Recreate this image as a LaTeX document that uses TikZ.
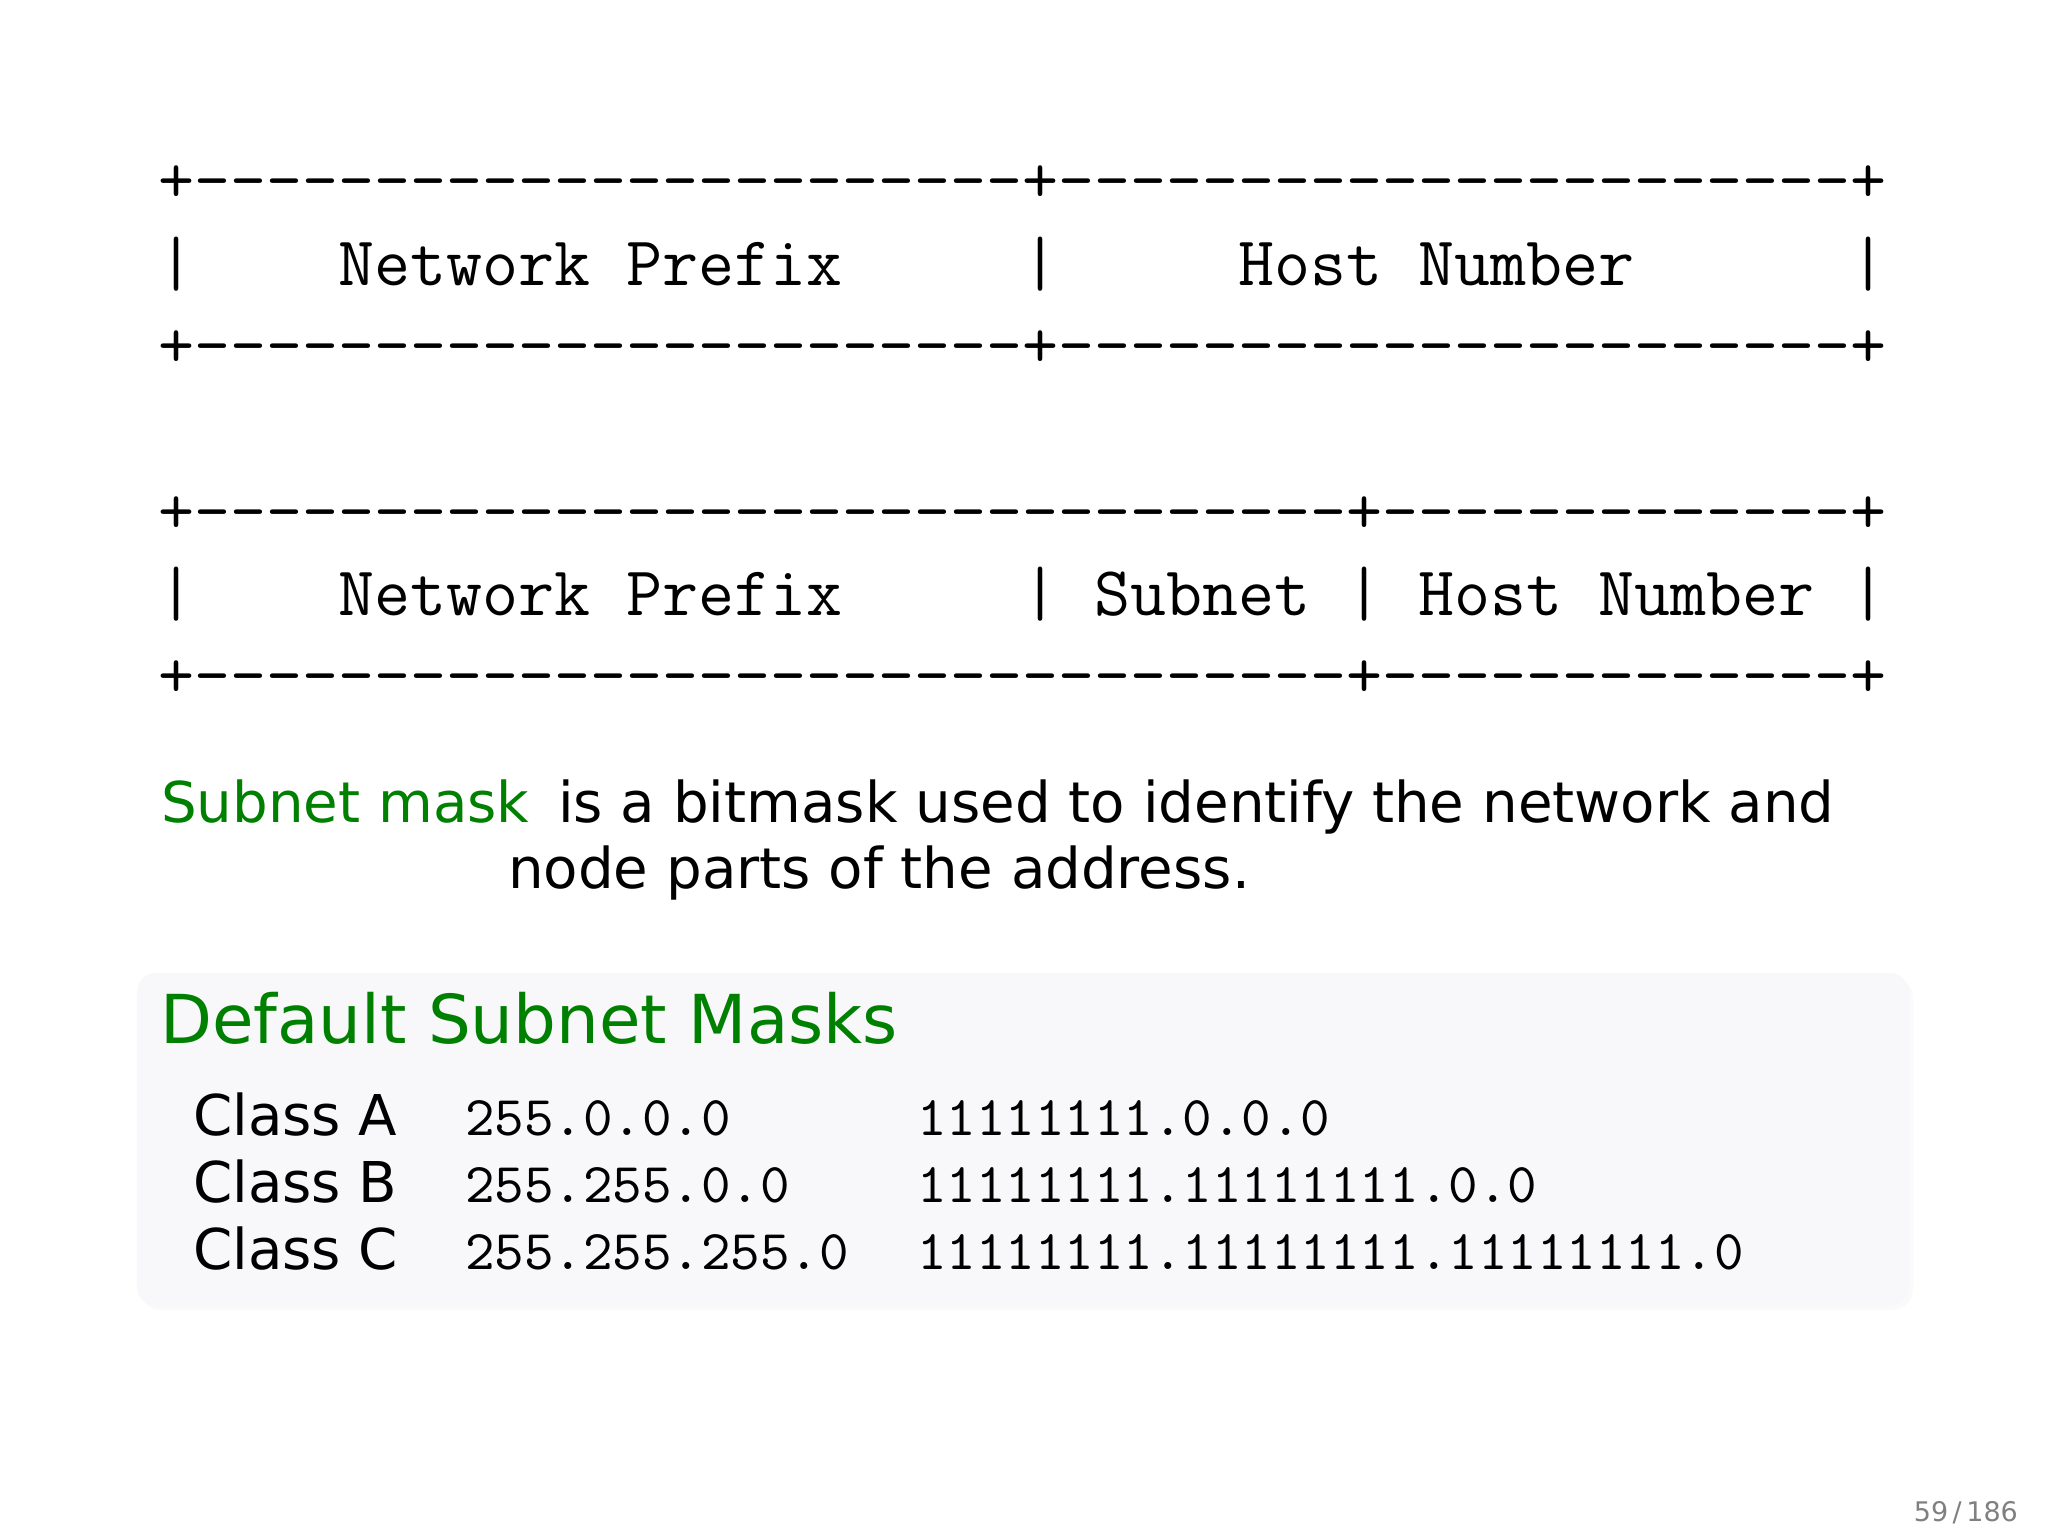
\documentclass[tikz,border=0pt]{standalone}
\usepackage{fontspec}
\setsansfont{DejaVu Sans}
\ExplSyntaxOn
\cs_new:Npn \rdash #1 { \prg_replicate:nn {#1} { - {} } }
\cs_new:Npn \rsp #1 { \prg_replicate:nn {#1} { \nobreakspace } }
\ExplSyntaxOff
\definecolor{strgreen}{RGB}{0,128,0}
\definecolor{blockbg}{RGB}{248,247,249}
\definecolor{pagegray}{RGB}{128,128,128}
\tikzset{
  ascii/.style={anchor=base west, inner sep=0pt, font=\ttfamily\fontsize{12.43}{14}\selectfont},
  body/.style={anchor=base west, inner sep=0pt, font=\sffamily\fontsize{10}{12}\selectfont},
  tab/.style={anchor=base west, inner sep=0pt, font=\ttfamily\fontsize{10}{12}\selectfont},
  btitle/.style={anchor=base west, inner sep=0pt, text=strgreen, font=\sffamily\fontsize{12}{14}\selectfont},
}
\begin{document}
\begin{tikzpicture}[x=0.0625mm, y=-0.0625mm]
\useasboundingbox (0,0) rectangle (2048,1536);
\fill[white] (0,0) rectangle (2048,1536);
% block
\fill[black!2, rounded corners=1.3mm] (140,977) rectangle (1913,1310);
\fill[blockbg, rounded corners=1.2mm] (137,973) rectangle (1909,1306);
% ASCII diagram 1
\node[ascii] (a1) at (157,203) {+\rdash{23}+\rdash{22}+};
\node[ascii] (a2) at (157,285) {|\rsp{4}Network\rsp{1}Prefix\rsp{5}|\rsp{5}Host\rsp{1}Number\rsp{6}|};
\node[ascii] (a3) at (157,367) {+\rdash{23}+\rdash{22}+};
% ASCII diagram 2
\node[ascii] (b1) at (157,533) {+\rdash{32}+\rdash{13}+};
\node[ascii] (b2) at (157,615) {|\rsp{4}Network\rsp{1}Prefix\rsp{5}|\rsp{1}Subnet\rsp{1}|\rsp{1}Host\rsp{1}Number\rsp{1}|};
\node[ascii] (b3) at (157,697) {+\rdash{32}+\rdash{13}+};
% description
\node[body, text=strgreen] (lbl) at (160,822) {Subnet mask};
\node[body] (d1) at (557,822) {is a bitmask used to identify the network and};
\node[body] (d2) at (507,888) {node parts of the address.};
% block content
\node[btitle] (bt) at (159,1043) {Default Subnet Masks};
\node[body] (ca) at (192,1135) {Class A};
\node[body] (cb) at (192,1202) {Class B};
\node[body] (cc) at (192,1269) {Class C};
\node[tab] (ma) at (464,1135) {255.0.0.0};
\node[tab] (mb) at (464,1202) {255.255.0.0};
\node[tab] (mc) at (464,1269) {255.255.255.0};
\node[tab] (ba) at (916,1135) {11111111.0.0.0};
\node[tab] (bb) at (916,1202) {11111111.11111111.0.0};
\node[tab] (bc) at (916,1269) {11111111.11111111.11111111.0};
% page number
\node[anchor=base east, inner sep=0pt, text=pagegray, font=\sffamily\fontsize{4.8}{6}\selectfont] (pg) at (2019,1521) {59\,/\,186};
\end{tikzpicture}
\end{document}
